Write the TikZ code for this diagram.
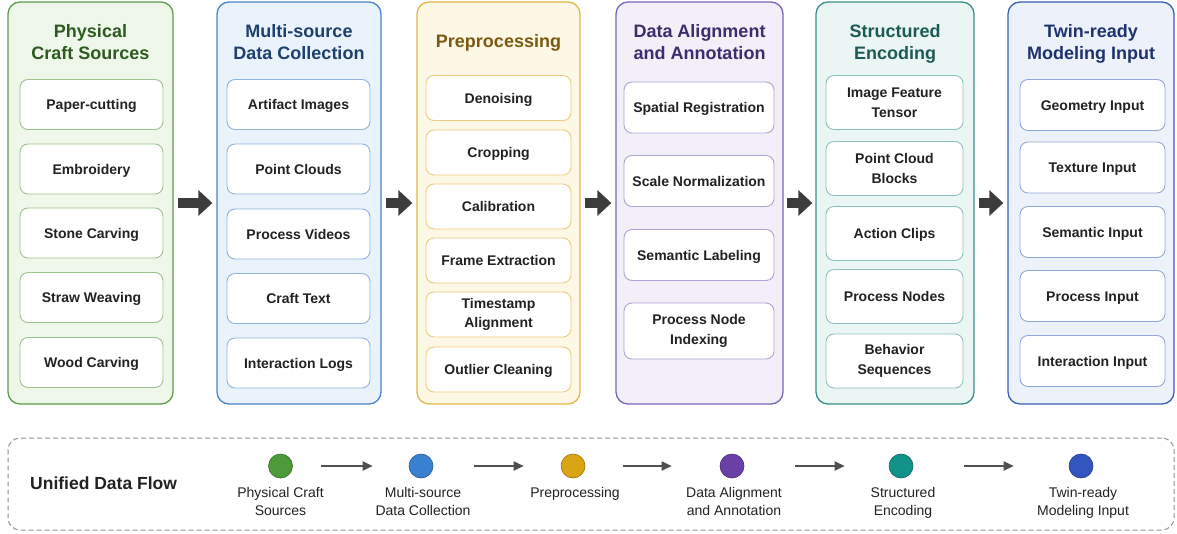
\documentclass[tikz,border=0pt]{standalone}
\usepackage{fontspec}
\setmainfont{Liberation Sans}
\usetikzlibrary{arrows.meta}
\definecolor{gB}{HTML}{5E9C4C}\definecolor{gF}{HTML}{EFF6EA}\definecolor{gT}{HTML}{2E5A22}\definecolor{gI}{HTML}{9CC48E}
\definecolor{bB}{HTML}{4A86C8}\definecolor{bF}{HTML}{EAF2FB}\definecolor{bT}{HTML}{1F3F6E}\definecolor{bI}{HTML}{8FB5DE}
\definecolor{yB}{HTML}{E2B84A}\definecolor{yF}{HTML}{FDF7E6}\definecolor{yT}{HTML}{7A5A12}\definecolor{yI}{HTML}{EACB80}
\definecolor{pB}{HTML}{7A66B8}\definecolor{pF}{HTML}{F2EFF9}\definecolor{pT}{HTML}{3E2D6E}\definecolor{pI}{HTML}{AEA2D6}
\definecolor{tB}{HTML}{3A8F88}\definecolor{tF}{HTML}{EAF5F4}\definecolor{tT}{HTML}{1E5A55}\definecolor{tI}{HTML}{8CC2BD}
\definecolor{dB}{HTML}{3A5FB8}\definecolor{dF}{HTML}{EDF1FA}\definecolor{dT}{HTML}{1E3270}\definecolor{dI}{HTML}{93A8DA}
\definecolor{cG}{HTML}{4E9A3A}\definecolor{cB}{HTML}{3A80D0}\definecolor{cY}{HTML}{D9A514}
\definecolor{cP}{HTML}{6A3FA8}\definecolor{cT}{HTML}{11938A}\definecolor{cD}{HTML}{3355C0}
\definecolor{arr}{HTML}{3C3C3C}\definecolor{txt}{HTML}{222222}
\begin{document}
\begin{tikzpicture}[x=1pt,y=-1pt,
  col/.style={draw, rounded corners=12pt, line width=1.3pt, minimum width=#1, minimum height=402pt, inner sep=0pt},
  ttl/.style={align=center, font=\fontsize{18}{22}\selectfont\bfseries, inner sep=0pt},
  inbox/.style={draw, fill=white, rounded corners=8pt, line width=0.9pt, align=center, inner sep=0pt,
    text=txt, font=\fontsize{14}{19.5}\selectfont\bfseries},
  sl/.style={text height=10pt, text depth=0pt},
  bigarrow/.style={draw=arr, line width=10pt, shorten <=4pt, shorten >=4pt, -{Triangle[width=25pt,length=14pt]}},
  dot/.style={circle, draw=#1!70!black, fill=#1, line width=0.6pt, minimum size=24pt, inner sep=0pt},
  lbl/.style={align=center, font=\fontsize{14}{18}\selectfont, text=txt, inner sep=0pt},
  flow/.style={draw=arr!90, line width=1.8pt, -{Triangle[width=9pt,length=10pt]}},
  gbox/.style={inbox, sl, draw=gI, minimum width=143pt, minimum height=50pt},
  bbox/.style={inbox, sl, draw=bI, minimum width=143pt, minimum height=50pt},
  ybox/.style={inbox, draw=yI, minimum width=145pt, minimum height=45pt},
  pbox/.style={inbox, draw=pI, minimum width=150pt, minimum height=51pt},
  tbox/.style={inbox, draw=tI, minimum width=137pt, minimum height=54pt},
  dbox/.style={inbox, sl, draw=dI, minimum width=145pt, minimum height=51pt}
]
\useasboundingbox[fill=white] (0,0) rectangle (1177,533);

% columns
\node[col=165pt, draw=gB, fill=gF] (c1) at (90.5,203) {};
\node[col=164pt, draw=bB, fill=bF] (c2) at (299,203) {};
\node[col=163pt, draw=yB, fill=yF] (c3) at (498.5,203) {};
\node[col=167pt, draw=pB, fill=pF] (c4) at (699.5,203) {};
\node[col=158pt, draw=tB, fill=tF] (c5) at (895,203) {};
\node[col=166pt, draw=dB, fill=dF] (c6) at (1091,203) {};

% titles
\node[ttl, text=gT] (t1) at (90.5,42) {Physical\\Craft Sources};
\node[ttl, text=bT] (t2) at (299,42) {Multi-source\\Data Collection};
\node[ttl, text=yT] (t3) at (498.5,42.5) {Preprocessing};
\node[ttl, text=pT] (t4) at (699.5,42) {Data Alignment\\and Annotation};
\node[ttl, text=tT] (t5) at (895,44) {Structured\\Encoding};
\node[ttl, text=dT] (t6) at (1091,44) {Twin-ready\\Modeling Input};

% column 1
\node[gbox] (g1) at (91.5,104.5) {Paper-cutting};
\node[gbox] (g2) at (91.5,169) {Embroidery};
\node[gbox] (g3) at (91.5,233) {Stone Carving};
\node[gbox] (g4) at (91.5,297.5) {Straw Weaving};
\node[gbox] (g5) at (91.5,362.5) {Wood Carving};

% column 2
\node[bbox] (b1) at (298.5,104.5) {Artifact Images};
\node[bbox] (b2) at (298.5,169) {Point Clouds};
\node[bbox] (b3) at (298.5,234) {Process Videos};
\node[bbox] (b4) at (298.5,298.5) {Craft Text};
\node[bbox] (b5) at (298.5,363) {Interaction Logs};

% column 3
\node[ybox, sl] (y1) at (498.5,98) {Denoising};
\node[ybox, sl] (y2) at (498.5,152.5) {Cropping};
\node[ybox, sl] (y3) at (498.5,206.5) {Calibration};
\node[ybox, sl] (y4) at (498.5,260.5) {Frame Extraction};
\node[ybox] (y5) at (498.5,314.5) {Timestamp\\Alignment};
\node[ybox, sl] (y6) at (498.5,369.5) {Outlier Cleaning};

% column 4
\node[pbox, sl] (p1) at (699,107.5) {Spatial Registration};
\node[pbox, sl] (p2) at (699,181) {Scale Normalization};
\node[pbox, sl] (p3) at (699,255) {Semantic Labeling};
\node[pbox, minimum height=56pt] (p4) at (699,331) {Process Node\\Indexing};

% column 5
\node[tbox] (s1) at (894.5,102.5) {Image Feature\\Tensor};
\node[tbox] (s2) at (894.5,168.5) {Point Cloud\\Blocks};
\node[tbox, sl] (s3) at (894.5,233.5) {Action Clips};
\node[tbox, sl] (s4) at (894.5,296.5) {Process Nodes};
\node[tbox] (s5) at (894.5,361) {Behavior\\Sequences};

% column 6
\node[dbox] (m1) at (1092.5,105) {Geometry Input};
\node[dbox] (m2) at (1092.5,167.5) {Texture Input};
\node[dbox] (m3) at (1092.5,232) {Semantic Input};
\node[dbox] (m4) at (1092.5,296) {Process Input};
\node[dbox] (m5) at (1092.5,361) {Interaction Input};

% big arrows
\draw[bigarrow] (c1.east) -- (c2.west);
\draw[bigarrow] (c2.east) -- (c3.west);
\draw[bigarrow] (c3.east) -- (c4.west);
\draw[bigarrow, shorten <=3pt, shorten >=3pt] (c4.east) -- (c5.west);
\draw[bigarrow] (c5.east) -- (c6.west);

% bottom legend
\node[draw=gray!85, dashed, dash pattern=on 5pt off 3pt, line width=1pt, rounded corners=12pt,
  minimum width=1166pt, minimum height=92pt, inner sep=0pt] (legend) at (591,484) {};
\node[font=\fontsize{17.5}{20}\selectfont\bfseries, text=txt, anchor=west, inner sep=0pt] (uf) at (30,483) {Unified Data Flow};

\node[dot=cG] (d1) at (280.5,466) {};
\node[dot=cB] (d2) at (421,466) {};
\node[dot=cY] (d3) at (573,466) {};
\node[dot=cP] (d4) at (732,466) {};
\node[dot=cT] (d5) at (901,466) {};
\node[dot=cD] (d6) at (1081,466) {};

\draw[flow, shorten <=28.5pt, shorten >=36pt] (d1) -- (d2);
\draw[flow, shorten <=41pt, shorten >=37pt] (d2) -- (d3);
\draw[flow, shorten <=38pt, shorten >=48pt] (d3) -- (d4);
\draw[flow, shorten <=51pt, shorten >=44pt] (d4) -- (d5);
\draw[flow, shorten <=51pt, shorten >=55pt] (d5) -- (d6);

\node[lbl] (l1) at (280.5,501) {Physical Craft\\Sources};
\node[lbl] (l2) at (423,501) {Multi-source\\Data Collection};
\node[lbl] (l3) at (575,494) {Preprocessing};
\node[lbl] (l4) at (734,501) {Data Alignment\\and Annotation};
\node[lbl] (l5) at (903,503) {Structured\\Encoding};
\node[lbl] (l6) at (1083,503) {Twin-ready\\Modeling Input};
\end{tikzpicture}
\end{document}
